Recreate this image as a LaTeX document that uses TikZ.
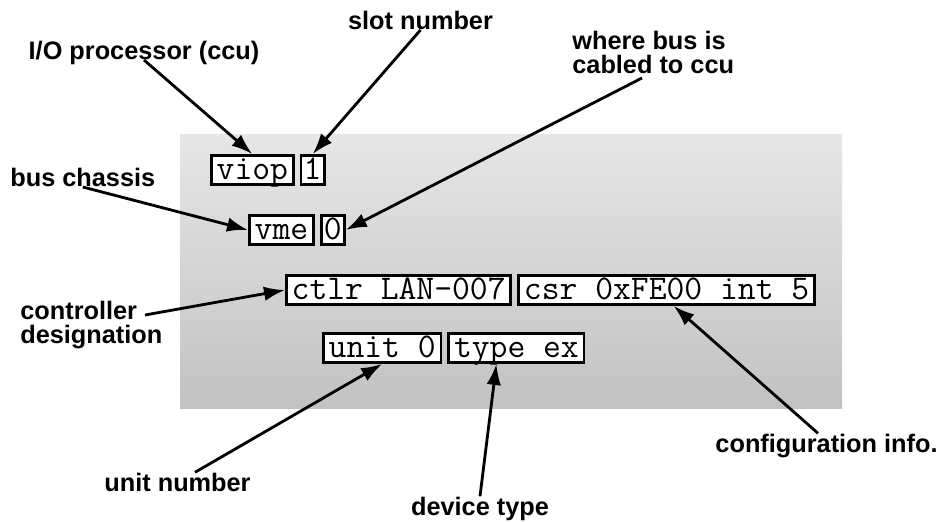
\documentclass[tikz,border=0pt]{standalone}
\usepackage{fontspec}
\setsansfont{Liberation Sans}
\usepackage{tikz}
\usetikzlibrary{arrows.meta,positioning}
\definecolor{halflo}{HTML}{E6E6E6}
\definecolor{halfmid}{HTML}{DADADA}
\definecolor{halfhi}{HTML}{C2C2C2}

\begin{document}
\begin{tikzpicture}[
  font=\sffamily,>={Latex[length=4.2mm,width=2.9mm]},
  lbl/.style={font=\sffamily\fontsize{14.4}{13.7}\selectfont\bfseries, inner sep=0pt, align=left},
  field/.style={draw, line width=1.6pt, fill=white, font=\ttfamily\fontsize{19.7}{21}\selectfont, inner xsep=3pt, inner ysep=0pt, minimum height=5.8mm, text height=4.3mm, text depth=0.5mm},
  digit/.style={field, inner xsep=1.5pt},
  callout/.style={->, line width=1.6pt},
]
\useasboundingbox (0,0) rectangle (18.86,10.42);
% halftone backdrop
\shade[top color=halflo, middle color=halfmid, bottom color=halfhi] (3.6,7.72) rectangle (16.84,2.26);

% config line fields
\node[field,anchor=west] (viop) at (4.20,7.02) {viop};
\node[digit,right=1mm of viop] (slotno) {1};
\node[field,anchor=west] (vme) at (4.96,5.82) {vme};
\node[digit,right=1mm of vme] (cable) {0};
\node[field,anchor=west] (ctlr) at (5.70,4.62) {ctlr LAN-007};
\node[field,right=1mm of ctlr] (csr) {csr 0xFE00 int 5};
\node[field,anchor=west] (unit) at (6.44,3.46) {unit 0};
\node[field,right=1mm of unit] (type) {type ex};

% callouts
\node[lbl,anchor=base] (slotlbl) at (8.41,9.82) {slot number};
\node[lbl,anchor=base] (ioplbl) at (2.88,9.22) {I/O processor (ccu)};
\node[lbl,anchor=north west] (cablelbl) at (11.44,9.80) {where bus is\\cabled to ccu};
\coordinate (cablefrom) at (12.84,8.86);
\node[lbl,anchor=base west] (chassislbl) at (0.20,6.68) {bus chassis};
\node[lbl,anchor=north west] (ctlrlbl) at (0.40,4.40) {controller\\designation};
\coordinate (ctlrfrom) at (2.90,4.12);
\node[lbl,anchor=base] (unitlbl) at (3.55,0.60) {unit number};
\node[lbl,anchor=base] (typelbl) at (9.60,0.12) {device type};
\node[lbl,anchor=base] (cfglbl) at (16.53,1.38) {configuration info.};

\draw[callout] (ioplbl.base) -- (viop.north);
\draw[callout] (slotlbl.base) -- (slotno.north);
\draw[callout] (chassislbl.base) -- (vme.west);
\draw[callout] (cablefrom) -- (cable.east);
\draw[callout] (ctlrfrom) -- (ctlr.west);
\draw[callout] ([xshift=3.5mm]unitlbl.north) -- (unit.south);
\draw[callout] (typelbl.north) -- ([xshift=-4mm]type.south);
\draw[callout] ([xshift=-1.7mm]cfglbl.north) -- ([xshift=1.4mm]csr.south);
\end{tikzpicture}
\end{document}
